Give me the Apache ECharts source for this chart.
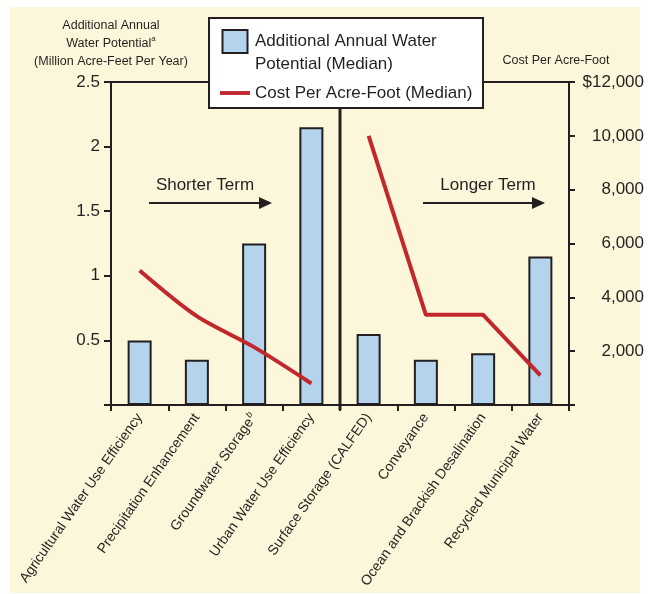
<!DOCTYPE html>
<html>
<head>
<meta charset="utf-8">
<title>Water potential and cost</title>
<script src="https://cdn.jsdelivr.net/npm/echarts@6/dist/echarts.min.js"></script>
<style>
  html, body { margin: 0; padding: 0; background: #fff; }
  #main { width: 650px; height: 594px; }
</style>
</head>
<body>
<div id="main"></div>
<script>
// data
const categories = [
  'Agricultural Water Use Efficiency',
  'Precipitation Enhancement',
  'Groundwater Storage',
  'Urban Water Use Efficiency',
  'Surface Storage (CALFED)',
  'Conveyance',
  'Ocean and Brackish Desalination',
  'Recycled Municipal Water'
];
const waterPotential = [0.5, 0.35, 1.25, 2.15, 0.55, 0.35, 0.4, 1.15];
// cost per acre-foot, shorter-term group drawn smooth, longer-term straight
const costShorter = [5000, 3300, 2150, 800, '-', '-', '-', '-'];
const costLonger = ['-', '-', '-', '-', 10000, 3350, 3350, 1100];
const leftTicks = { min: 0, max: 2.5, interval: 0.5 };
const rightTicks = { min: 0, max: 12000, interval: 2000 };

const INK = '#231f20';
const RED = '#c1272d';
const FONT = '"Liberation Sans", Arial, Helvetica, sans-serif';
const barName = 'Additional Annual Water Potential (Median)';
const lineName = 'Cost Per Acre-Foot (Median)';

const chart = echarts.init(document.getElementById('main'), null, { renderer: 'canvas' });

const option = {
  animation: false,
  backgroundColor: '#ffffff',
  grid: {
    left: 111, right: 81, top: 82, bottom: 189,
    show: true,
    borderColor: INK,
    borderWidth: 2,
    backgroundColor: 'transparent',
    containLabel: false,
    outerBoundsMode: 'none'
  },
  legend: {
    orient: 'vertical',
    left: 220,
    top: 7,
    padding: 0,
    itemGap: 5.5,
    itemWidth: 30,
    itemHeight: 23,
    textStyle: { fontFamily: FONT, fontSize: 17, color: INK, lineHeight: 23 },
    formatter: function (name) {
      return name === barName ? '\nAdditional Annual Water\nPotential (Median)' : name;
    },
    data: [
      { name: barName, icon: 'path://M0,0h25v23h-25z' },
      { name: lineName, icon: 'path://M0,0h31v4h-31z', itemStyle: { color: RED, borderWidth: 0 } }
    ],
    z: 6
  },
  xAxis: {
    type: 'category',
    data: categories,
    boundaryGap: true,
    axisLine: { show: true, lineStyle: { color: INK, width: 2 } },
    axisTick: { show: true, length: 6, alignWithLabel: false, interval: 0, lineStyle: { color: INK, width: 2 } },
    splitLine: { show: false },
    axisLabel: {
      interval: 0,
      rotate: 55,
      margin: 10,
      fontFamily: FONT,
      fontSize: 14,
      color: INK,
      formatter: function (v) {
        return v === 'Groundwater Storage' ? v + '{sup|b}' : v;
      },
      rich: {
        sup: { fontFamily: FONT, fontSize: 9, fontStyle: 'italic', color: INK, verticalAlign: 'top', padding: [0, 0, 8, 1] }
      }
    }
  },
  yAxis: [
    {
      type: 'value',
      min: leftTicks.min, max: leftTicks.max, interval: leftTicks.interval,
      position: 'left',
      name: 'Additional Annual\nWater Potential{sup|a}\n(Million Acre-Feet Per Year)',
      nameLocation: 'end',
      nameGap: 11,
      nameTextStyle: {
        fontFamily: FONT, fontSize: 12.5, color: INK, lineHeight: 18, align: 'center',
        rich: { sup: { fontFamily: FONT, fontSize: 8, color: INK, verticalAlign: 'top', padding: [0, 0, 7, 0] } }
      },
      axisLine: { show: true, lineStyle: { color: INK, width: 2 } },
      axisTick: { show: true, length: 7, inside: false, lineStyle: { color: INK, width: 2 } },
      splitLine: { show: false },
      axisLabel: {
        fontFamily: FONT, fontSize: 17, color: INK, margin: 11,
        formatter: function (v) { return v === 0 ? '' : String(v); }
      }
    },
    {
      type: 'value',
      min: rightTicks.min, max: rightTicks.max, interval: rightTicks.interval,
      position: 'right',
      name: 'Cost Per Acre-Foot',
      nameLocation: 'end',
      nameGap: 15,
      nameTextStyle: { fontFamily: FONT, fontSize: 12.5, color: INK, align: 'center', padding: [0, 26, 0, 0] },
      axisLine: { show: true, lineStyle: { color: INK, width: 2 } },
      axisTick: { show: true, length: 6, inside: false, lineStyle: { color: INK, width: 2 } },
      splitLine: { show: false },
      axisLabel: {
        fontFamily: FONT, fontSize: 17, color: INK, margin: 75, align: 'right',
        formatter: function (v) {
          if (v === 0) return '';
          const s = v.toLocaleString('en-US');
          return v === rightTicks.max ? '$' + s : s;
        }
      }
    }
  ],
  series: [
    {
      name: barName,
      type: 'bar',
      data: waterPotential,
      barWidth: 24,
      itemStyle: { color: '#b4d3ec', borderColor: INK, borderWidth: 2, borderRadius: 0 }
    },
    {
      name: lineName,
      type: 'line',
      yAxisIndex: 1,
      data: costShorter,
      smooth: 0.3,
      symbol: 'none',
      showSymbol: false,
      connectNulls: false,
      lineStyle: { color: RED, width: 4 },
      itemStyle: { color: RED },
      z: 4
    },
    {
      name: lineName,
      type: 'line',
      yAxisIndex: 1,
      data: costLonger,
      smooth: false,
      symbol: 'none',
      showSymbol: false,
      connectNulls: false,
      lineStyle: { color: RED, width: 4 },
      itemStyle: { color: RED },
      z: 4
    }
  ]
};

chart.setOption(option);

// decorations placed from the axis scale
const x3 = chart.convertToPixel({ xAxisIndex: 0 }, 3);
const x4 = chart.convertToPixel({ xAxisIndex: 0 }, 4);
const midX = Math.round((x3 + x4) / 2);
const yTop = chart.convertToPixel({ yAxisIndex: 0 }, leftTicks.max);
const yBottom = chart.convertToPixel({ yAxisIndex: 0 }, 0);

function arrow(x1, x2, y) {
  return [
    { type: 'line', z: 3, shape: { x1: x1, y1: y, x2: x2 - 10, y2: y }, style: { stroke: INK, lineWidth: 2 } },
    { type: 'polygon', z: 3, shape: { points: [[x2 - 13, y - 6], [x2, y], [x2 - 13, y + 6]] }, style: { fill: INK } }
  ];
}

chart.setOption({
  graphic: [
    { type: 'rect', z: -10, silent: true, shape: { x: 10, y: 7, width: 630, height: 586 }, style: { fill: '#fcf7da' } },
    { type: 'line', z: 3, shape: { x1: midX, y1: yTop, x2: midX, y2: yBottom + 5 }, style: { stroke: INK, lineWidth: 3 } },
    { type: 'rect', z: 5, shape: { x: 209, y: 18, width: 274, height: 90 }, style: { fill: '#ffffff', stroke: INK, lineWidth: 2 } },
    { type: 'text', z: 3, x: 205, y: 185, style: { text: 'Shorter Term', font: '17px ' + FONT, fill: INK, align: 'center', verticalAlign: 'middle' } },
    { type: 'text', z: 3, x: 488, y: 185, style: { text: 'Longer Term', font: '17px ' + FONT, fill: INK, align: 'center', verticalAlign: 'middle' } }
  ].concat(arrow(149, 272, 203), arrow(423, 545, 203))
});
</script>
</body>
</html>
